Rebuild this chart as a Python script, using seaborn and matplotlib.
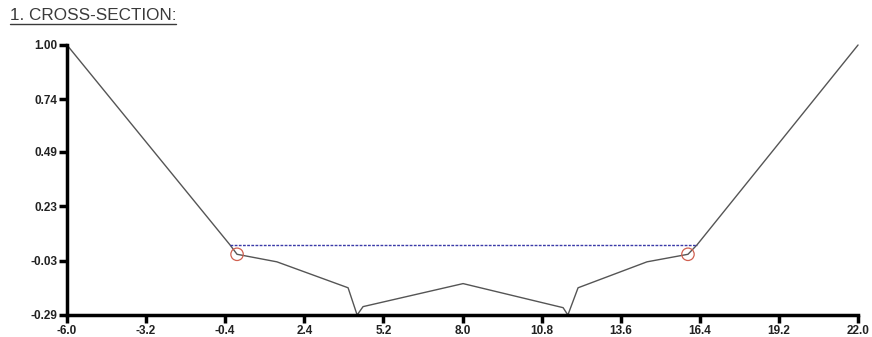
import pandas as pd
import seaborn as sns
import matplotlib.pyplot as plt
from matplotlib.lines import Line2D

# Cross-section profile (offset, elevation)
station = [-6.0, -0.23, 0.02, 1.43, 3.95, 4.27, 4.48, 8.02, 11.56, 11.73, 12.09, 14.53, 15.98, 16.30, 22.0]
elevation = [1.00, 0.045, 0.0, -0.036, -0.16, -0.29, -0.25, -0.14, -0.255, -0.29, -0.16, -0.036, 0.0, 0.045, 1.00]

# Water surface
water_x = [-0.23, 16.30]
water_y = [0.045, 0.045]

# Bank markers
bank_x = [0.02, 15.98]
bank_y = [0.0, 0.0]

x_ticks = [-6.0, -3.2, -0.4, 2.4, 5.2, 8.0, 10.8, 13.6, 16.4, 19.2, 22.0]
y_ticks = [-0.29, -0.03, 0.23, 0.49, 0.74, 1.00]

sns.set_style('white')
plt.rcParams['font.family'] = ['Liberation Sans', 'DejaVu Sans']

df = pd.DataFrame({'station': station, 'elevation': elevation})

fig = plt.figure(figsize=(8.72, 3.37), dpi=100)
ax = fig.add_axes([0.0768, 0.0653, 0.9072, 0.8012])

sns.lineplot(data=df, x='station', y='elevation', sort=False, estimator=None,
             color='#555555', linewidth=1.0, ax=ax, clip_on=False)
sns.lineplot(x=water_x, y=water_y, color='#3a3aa8', linewidth=1.0,
             linestyle=(0, (2, 1)), ax=ax)
sns.scatterplot(x=bank_x, y=bank_y, s=80, facecolors='none',
                edgecolor='#d06050', linewidth=0.9, ax=ax, zorder=5)

ax.set_xlim(-6.0, 22.0)
ax.set_ylim(-0.29, 1.0)
ax.set_xticks(x_ticks)
ax.set_xticklabels([f'{v:.1f}' for v in x_ticks])
ax.set_yticks(y_ticks)
ax.set_yticklabels([f'{v:.2f}' for v in y_ticks])
ax.set_xlabel('')
ax.set_ylabel('')

for side in ['top', 'right']:
    ax.spines[side].set_visible(False)
for side in ['left', 'bottom']:
    ax.spines[side].set_linewidth(2.5)
    ax.spines[side].set_color('black')

ax.tick_params(axis='both', direction='out', length=6, width=2.5, color='black',
               labelsize=8.5, pad=1, bottom=True, left=True)
for lab in ax.get_xticklabels() + ax.get_yticklabels():
    lab.set_fontweight('bold')
    lab.set_color('#222222')

# Title with underline
title = fig.text(0.011, 0.955, '1. CROSS-SECTION:', fontsize=12.3, color='#3a3a3a',
                 ha='left', va='center')
fig.canvas.draw()
bb = title.get_window_extent().transformed(fig.transFigure.inverted())
fig.add_artist(Line2D([bb.x0, bb.x1], [bb.y0 - 0.004, bb.y0 - 0.004],
                      transform=fig.transFigure, color='#3a3a3a', linewidth=1.0))

fig.savefig('out.png', dpi=100)
